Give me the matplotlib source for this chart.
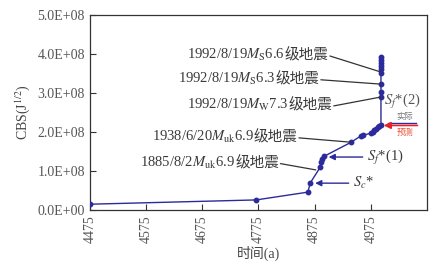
import numpy as np
import matplotlib
matplotlib.use('Agg')
import matplotlib.pyplot as plt

plt.rcParams['font.family'] = ['Liberation Serif', 'Noto Sans CJK SC']
plt.rcParams['mathtext.fontset'] = 'stix'

# data
years = [4475, 4771, 4863, 4867, 4885, 4886, 4888, 4892, 4940, 4957, 4961,
         4975, 4978, 4981, 4984, 4987, 4990, 4993, 4993, 4993, 4993, 4993,
         4993, 4993, 4993, 4993, 4993]
cbs = [0.15e8, 0.26e8, 0.46e8, 0.69e8, 1.10e8, 1.23e8, 1.31e8, 1.38e8, 1.74e8,
       1.90e8, 1.92e8, 1.97e8, 2.01e8, 2.05e8, 2.09e8, 2.12e8, 2.15e8, 2.18e8,
       2.90e8, 3.03e8, 3.23e8, 3.51e8, 3.61e8, 3.70e8, 3.78e8, 3.85e8, 3.92e8]
xticks = [4475, 4575, 4675, 4775, 4875, 4975]
yticks = [0, 1e8, 2e8, 3e8, 4e8, 5e8]
ytick_labels = ['0.0E+00', '1.0E+08', '2.0E+08', '3.0E+08', '4.0E+08', '5.0E+08']

# (text x, text y, math part, cjk part, target x, target y)
quakes = [
    (4648, 3.97e8, r'1992/8/19$M_\mathrm{S}$6.6', '级地震', 4993, 3.54e8),
    (4632, 3.36e8, r'1992/8/19$M_\mathrm{S}$6.3', '级地震', 4993, 3.23e8),
    (4648, 2.69e8, r'1992/8/19$M_\mathrm{W}$7.3', '级地震', 4993, 2.90e8),
    (4585, 1.87e8, r'1938/6/20$M_\mathrm{uk}$6.9', '级地震', 4940, 1.74e8),
    (4565, 1.21e8, r'1885/8/2$M_\mathrm{uk}$6.9', '级地震', 4877, 1.03e8),
]

blue = '#2b2b9c'
grey = '#3a3a3a'
fs = 10
afs = 10.5

fig = plt.figure(figsize=(4.38, 2.70), dpi=100)
ax = fig.add_axes([0.205, 0.222, 0.77, 0.722])

ax.plot(years, cbs, '-o', color=blue, lw=1, ms=3.2, zorder=3)

ax.set_xlim(4475, 5075)
ax.set_ylim(0, 5e8)
ax.set_xticks(xticks)
ax.set_xticklabels([str(x) for x in xticks], rotation=90)
ax.set_yticks(yticks)
ax.set_yticklabels(ytick_labels)
ax.tick_params(direction='in', length=4, labelsize=fs, colors='#333333',
               labelcolor='#555555')
for s in ax.spines.values():
    s.set_color('#333333')
    s.set_linewidth(0.9)

ax.set_ylabel(r'CBS(J$^{1/2}$)', fontsize=fs, color='#444444', labelpad=4)
ax.set_xlabel('时间(a)', fontsize=fs, color='#444444', labelpad=2)

for tx, ty, mpart, cpart, px, py in quakes:
    t1 = ax.text(tx, ty, mpart, va='center', ha='left', fontsize=afs, color=grey)
    t2 = ax.annotate(cpart, xy=(1, 0.5), xycoords=t1, va='center', ha='left',
                     fontsize=afs, color=grey, family=['Noto Sans CJK SC'])
    ax.annotate('', xy=(px, py), xycoords='data', xytext=(1.03, 0.45),
                textcoords=t2,
                arrowprops=dict(arrowstyle='-', color='#333333', lw=0.9,
                                shrinkA=0, shrinkB=0))

# S_f*(1) and S_c* arrows
ax.annotate(r'$S_f$*(1)', xy=(4900, 1.36e8), xytext=(4968, 1.36e8),
            va='center', ha='left', fontsize=afs, color=grey,
            arrowprops=dict(arrowstyle='-|>', color=blue, lw=1,
                            mutation_scale=9, shrinkA=1, shrinkB=0))
ax.annotate(r'$S_c$*', xy=(4876, 0.69e8), xytext=(4943, 0.69e8),
            va='center', ha='left', fontsize=afs, color=grey,
            arrowprops=dict(arrowstyle='-|>', color=blue, lw=1,
                            mutation_scale=9, shrinkA=1, shrinkB=0))

# S_f*(2): actual vs predicted
ax.text(4998, 2.79e8, r'$S_f$*(2)', va='center', ha='left', fontsize=afs, color='#555555')
ax.text(5035, 2.41e8, '实际', va='center', ha='center', fontsize=6,
        color='#777777', family=['Noto Sans CJK SC'])
ax.text(5035, 1.99e8, '预测', va='center', ha='center', fontsize=6,
        color='#e8503a', family=['Noto Sans CJK SC'])
ax.plot([5005, 5055], [2.24e8, 2.24e8], color=blue, lw=1, clip_on=False)
ax.annotate('', xy=(4998, 2.17e8), xytext=(5058, 2.17e8),
            arrowprops=dict(arrowstyle='-|>', color='#e8202a', lw=1.2,
                            mutation_scale=10, shrinkA=0, shrinkB=0))

fig.savefig('out.png', dpi=100)
